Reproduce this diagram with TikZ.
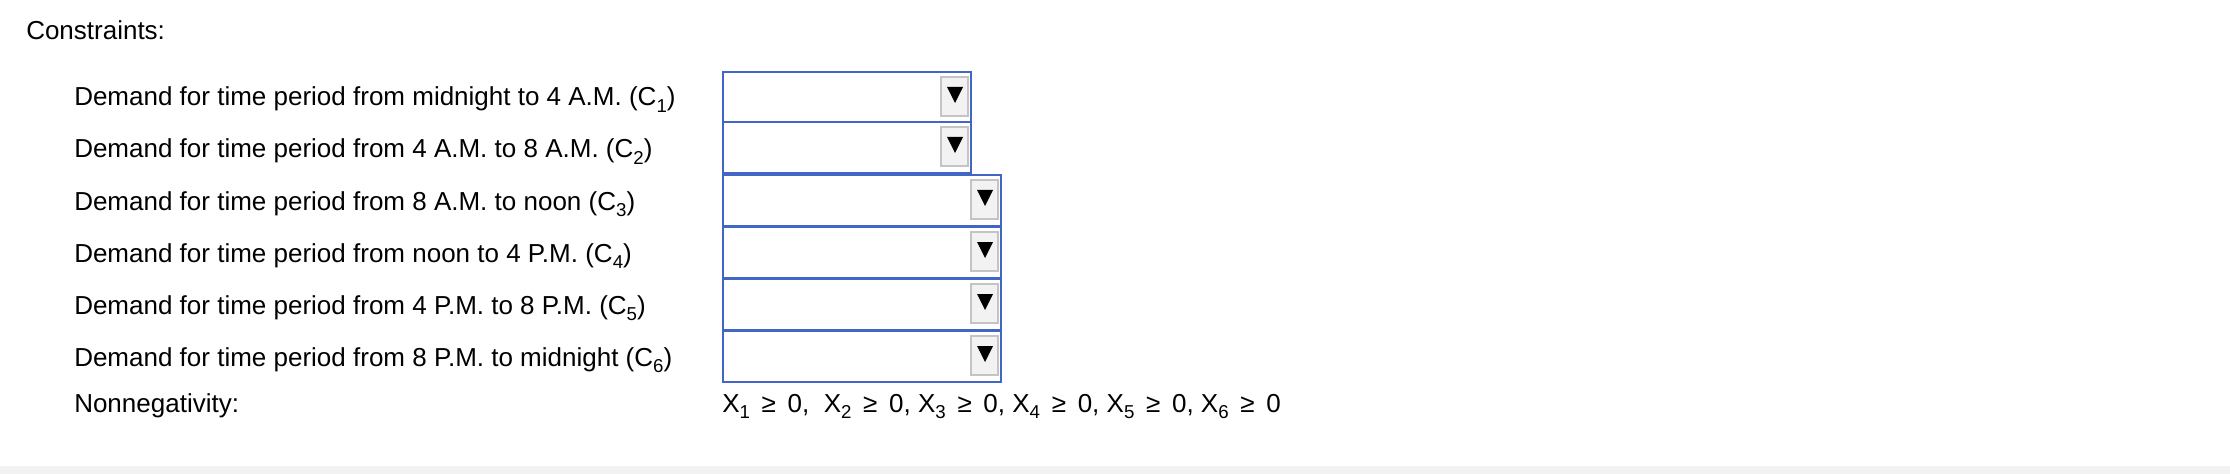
\documentclass[tikz,border=0pt]{standalone}
\usepackage{fontspec}
\setmainfont{Liberation Sans}
\definecolor{boxblue}{HTML}{4166C6}
\definecolor{btngray}{HTML}{C4C4C4}
\definecolor{btnfill}{HTML}{F2F2F2}
\definecolor{bandgray}{HTML}{F2F2F2}
\newcommand{\mysub}[1]{\raisebox{-0.5ex}{\fontsize{14}{14}\selectfont #1}}
\newcommand{\myge}{\hspace{0.45em}≥\hspace{0.45em}}
\begin{document}
\begin{tikzpicture}[x=0.75pt,y=-0.75pt,
  lbl/.style={anchor=base west,inner sep=0pt,font=\fontsize{19.5}{22}\selectfont},
  ddbox/.style={draw=boxblue,line width=2.2pt*0.75,fill=white},
  btn/.style={draw=btngray,line width=1.8pt*0.75,fill=btnfill}]
\useasboundingbox (0,0) rectangle (2230,474);
\fill[bandgray] (0,466) rectangle (2230,474);
\node[lbl] (title) at (26,40) {Constraints:};
\node[lbl] (c1) at (74,106) {Demand for time period from midnight to 4 A.M. (C\mysub{1})};
\node[lbl] (c2) at (74,158) {Demand for time period from 4 A.M. to 8 A.M. (C\mysub{2})};
\node[lbl] (c3) at (74,210) {Demand for time period from 8 A.M. to noon (C\mysub{3})};
\node[lbl] (c4) at (74,262) {Demand for time period from noon to 4 P.M. (C\mysub{4})};
\node[lbl] (c5) at (74,314) {Demand for time period from 4 P.M. to 8 P.M. (C\mysub{5})};
\node[lbl] (c6) at (74,366) {Demand for time period from 8 P.M. to midnight (C\mysub{6})};
\node[lbl] (nn) at (74,412) {Nonnegativity:};
\node[lbl] (xs) at (722,412) {X\mysub{1}\myge 0,\ \ X\mysub{2}\myge 0, X\mysub{3}\myge 0, X\mysub{4}\myge 0, X\mysub{5}\myge 0, X\mysub{6}\myge 0};
% dropdowns
\foreach \y/\r in {72/971,122/971,175/1001,227/1001,279/1001,331/1001}{
  \draw[ddbox] (723,\y) rectangle (\r,\y+51);
  \draw[btn] (\r-30,\y+5) rectangle (\r-3,\y+44);
  \fill[black] (\r-24,\y+15) -- (\r-8,\y+15) -- (\r-16,\y+31) -- cycle;
}
\end{tikzpicture}
\end{document}
